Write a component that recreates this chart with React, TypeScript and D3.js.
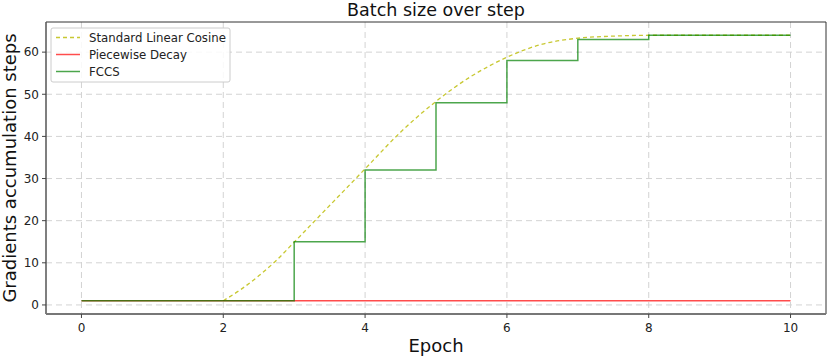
import React from "react";
import * as d3 from "d3";

const W = 831;
const H = 356;

const title = "Batch size over step";
const xLabel = "Epoch";
const yLabel = "Gradients accumulation steps";

const epochTicks = [0, 2, 4, 6, 8, 10];
const valueTicks = [0, 10, 20, 30, 40, 50, 60];

const cosineEpochs = [2, 2.25, 2.5, 2.75, 3, 3.5, 4, 4.5, 5, 5.5, 5.75, 6, 6.5, 7, 7.5, 8, 10];
const cosineValues = [1, 3.7, 6.9, 10.6, 14.9, 23.6, 32.3, 41, 48.3, 54.3, 56.7, 58.8, 61.9, 63.3, 63.8, 64, 64];

const piecewiseEpochs = [0, 10];
const piecewiseValues = [1, 1];

const fccsEpochs = [0, 3, 4, 5, 6, 7, 8, 10];
const fccsValues = [1, 15, 32, 48, 58, 63, 64, 64];

const seriesNames = ["Standard Linear Cosine", "Piecewise Decay", "FCCS"];

const margin = { left: 46, right: 5, top: 22, bottom: 42 };
const font = "DejaVu Sans, sans-serif";

export default function App() {
  const x = d3.scaleLinear().domain([-0.5, 10.5]).range([margin.left, W - margin.right]);
  const y = d3.scaleLinear().domain([-2.15, 67.15]).range([H - margin.bottom, margin.top]);

  const line = (curve: d3.CurveFactory) =>
    d3
      .line<[number, number]>()
      .x((d) => x(d[0]))
      .y((d) => y(d[1]))
      .curve(curve);

  const zip = (a: number[], b: number[]) => a.map((v, i) => [v, b[i]] as [number, number]);

  const cosinePath = line(d3.curveMonotoneX)(zip(cosineEpochs, cosineValues)) || "";
  const piecePath = line(d3.curveLinear)(zip(piecewiseEpochs, piecewiseValues)) || "";
  const fccsPath = line(d3.curveStepAfter)(zip(fccsEpochs, fccsValues)) || "";

  const x0 = margin.left;
  const x1 = W - margin.right;
  const y0 = H - margin.bottom;
  const y1 = margin.top;

  const cosColor = "#c8c832";
  const redColor = "rgba(255,0,0,0.7)";
  const greenColor = "rgba(0,128,0,0.7)";
  const legendColors = [cosColor, redColor, greenColor];

  return (
    <div style={{ position: "fixed", left: 0, top: 0 }}>
      <svg width={W} height={H} style={{ display: "block", background: "#fff" }}>
        <defs>
          <clipPath id="plot">
            <rect x={x0} y={y1} width={x1 - x0} height={y0 - y1} />
          </clipPath>
        </defs>
        {/* grid */}
        {epochTicks.map((t) => (
          <line key={"gx" + t} x1={x(t)} x2={x(t)} y1={y1} y2={y0} stroke="#d3d3d3" strokeWidth={1} strokeDasharray="6,4" />
        ))}
        {valueTicks.map((t) => (
          <line key={"gy" + t} x1={x0} x2={x1} y1={y(t)} y2={y(t)} stroke="#d3d3d3" strokeWidth={1} strokeDasharray="6,4" />
        ))}
        <g clipPath="url(#plot)" fill="none">
          <path d={cosinePath} stroke={cosColor} strokeWidth={1.3} strokeDasharray="4,3" />
          <path d={piecePath} stroke={redColor} strokeWidth={1.5} />
          <path d={fccsPath} stroke={greenColor} strokeWidth={1.5} />
        </g>
        {/* spines */}
        <line x1={x0} x2={x1} y1={y1} y2={y1} stroke="#333" strokeWidth={1} />
        <line x1={x1} x2={x1} y1={y1} y2={y0} stroke="#333" strokeWidth={1} />
        <line x1={x0} x2={x0} y1={y1} y2={y0} stroke="#555" strokeWidth={1.5} />
        <line x1={x0} x2={x1} y1={y0} y2={y0} stroke="#777" strokeWidth={1.8} />
        {/* x ticks */}
        {epochTicks.map((t) => (
          <g key={"tx" + t}>
            <line x1={x(t)} x2={x(t)} y1={y0} y2={y0 + 4} stroke="#444" strokeWidth={1} />
            <text x={x(t)} y={y0 + 18} textAnchor="middle" fontFamily={font} fontSize={12} fill="#222">
              {t}
            </text>
          </g>
        ))}
        {/* y ticks */}
        {valueTicks.map((t) => (
          <g key={"ty" + t}>
            <line x1={x0 - 4} x2={x0} y1={y(t)} y2={y(t)} stroke="#444" strokeWidth={1} />
            <text x={x0 - 7} y={y(t) + 4.3} textAnchor="end" fontFamily={font} fontSize={12} fill="#222">
              {t}
            </text>
          </g>
        ))}
        {/* labels */}
        <text x={(x0 + x1) / 2} y={16} textAnchor="middle" fontFamily={font} fontSize={17.5} fill="#111">
          {title}
        </text>
        <text x={(x0 + x1) / 2} y={352} textAnchor="middle" fontFamily={font} fontSize={18} fill="#111">
          {xLabel}
        </text>
        <text
          transform={`translate(16,${(y0 + y1) / 2}) rotate(-90)`}
          textAnchor="middle"
          fontFamily={font}
          fontSize={18}
          fill="#111"
        >
          {yLabel}
        </text>
        {/* legend */}
        <g>
          <rect x={51} y={28} width={179} height={54} rx={2} fill="rgba(255,255,255,0.85)" stroke="#ccc" strokeWidth={1} />
          {seriesNames.map((name, i) => {
            const ly = 37.5 + i * 17;
            return (
              <g key={name}>
                <line
                  x1={56}
                  x2={80}
                  y1={ly}
                  y2={ly}
                  stroke={legendColors[i]}
                  strokeWidth={i === 0 ? 1.3 : 1.5}
                  strokeDasharray={i === 0 ? "4,3" : undefined}
                />
                <text x={89} y={ly + 4.2} fontFamily={font} fontSize={11.75} fill="#222">
                  {name}
                </text>
              </g>
            );
          })}
        </g>
      </svg>
    </div>
  );
}
